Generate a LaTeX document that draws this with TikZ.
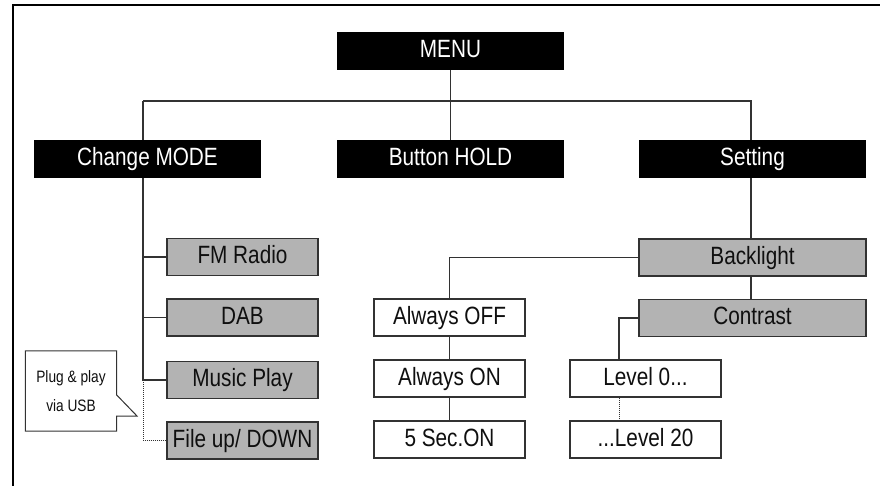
\documentclass[tikz,border=0pt]{standalone}
\usepackage{fontspec}
\setmainfont[FakeStretch=0.83]{Liberation Sans}
\usetikzlibrary{backgrounds}

\definecolor{boxgray}{RGB}{179,179,179}
\definecolor{edgegray}{RGB}{50,50,50}
\definecolor{inkgray}{RGB}{15,15,15}

\tikzset{
  head/.style={fill=black,text=white,inner sep=0pt,minimum width=227,minimum height=38,
    text height=17pt,text depth=4pt,font=\fontsize{25}{25}\selectfont},
  graybox/.style={draw=edgegray,line width=1.4pt,fill=boxgray,text=inkgray,inner sep=0pt,
    minimum width=151,minimum height=37,text height=17pt,text depth=4pt,
    font=\fontsize{25}{25}\selectfont},
  whitebox/.style={graybox,fill=white},
  link/.style={draw=edgegray,line width=1.5pt},
  dotlink/.style={draw=edgegray,line width=1pt,densely dotted}
}

\begin{document}
\begin{tikzpicture}[x=1pt,y=-1pt]

        \useasboundingbox (0,0) rectangle (880,486);
        \draw[black,line width=2pt] (12.7,486) -- (12.7,5.5) -- (880,5.5);

        \begin{scope}[every node/.style={head}]
          \node (menu)    at (450.5,51)  {MENU};
          \node (mode)    at (147.5,159) {Change MODE};
          \node (hold)    at (450.5,159) {Button HOLD};
          \node (setting) at (752.5,159) {Setting};
        \end{scope}

        \begin{scope}[every node/.style={graybox}]
          \node (fm)        at (242.5,257)   {FM Radio};
          \node (dab)       at (242.5,317.5) {DAB};
          \node (music)     at (242.5,380)   {Music Play};
          \node (file)      at (242.5,440.5) {File up/ DOWN};
          \node[minimum width=227] (backlight) at (752.5,257.5) {Backlight};
          \node[minimum width=227] (contrast)  at (752.5,318)   {Contrast};
        \end{scope}

        \begin{scope}[every node/.style={whitebox}]
          \node (off)   at (449.5,317.5) {Always OFF};
          \node (on)    at (449.5,378.5) {Always ON};
          \node (sec)   at (449.5,439.5) {5 Sec.ON};
          \node (lvl0)  at (645.5,378.5) {Level 0...};
          \node (lvl20) at (645.5,439.5) {...Level 20};
        \end{scope}

        % plug and play note
        \node[minimum width=91,minimum height=80,inner sep=0pt,align=center,text=inkgray,
          font=\fontsize{16.5}{29}\selectfont] (usb) at (71,391) {Plug \& play\\via USB};
        \coordinate (usbtip) at (137,416);
        \draw[edgegray,line width=1pt] (usb.north west) -- (usb.north east)
          -- ([yshift=-4pt]usb.east) -- (usbtip) -- ([yshift=-25pt]usb.east)
          -- (usb.south east) -- (usb.south west) -- cycle;

        \begin{scope}[on background layer]
          \coordinate (busL) at (143,101);
          \coordinate (busR) at (751,101);
          \coordinate (lvlbus) at (619,0);
          \draw[link] (menu.south) -- (hold.north);
          \draw[link] (busL) -- (busR) -- (busR |- backlight.north);
          \draw[link] (busL) |- (music.west);
          \draw[link] (busL |- fm.west) -- (fm.west);
          \draw[link] (busL |- dab.west) -- (dab.west);
          \draw[dotlink] (busL |- music.west) |- (file.west);
          \draw[link] (busR |- backlight.south) -- (busR |- contrast.north);
          \draw[link] (backlight.west) -| (off.north);
          \draw[link] (off.south) -- (on.north);
          \draw[link] (on.south) -- (sec.north);
          \draw[link] (contrast.west) -| (lvlbus |- lvl0.north);
          \draw[dotlink] (lvlbus |- lvl0.south) -- (lvlbus |- lvl20.north);
        \end{scope}

      \end{tikzpicture}
\end{document}
